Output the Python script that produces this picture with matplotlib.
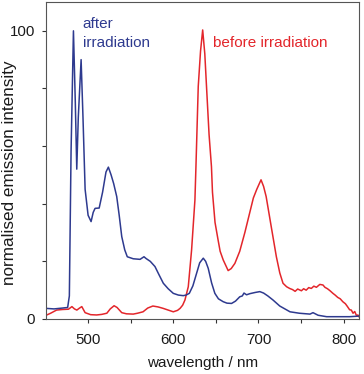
import matplotlib
matplotlib.use("Agg")
import matplotlib.pyplot as plt
from matplotlib.ticker import FixedLocator, FuncFormatter

plt.rcParams['font.family'] = ['Liberation Sans', 'DejaVu Sans']

# after irradiation (blue)
blue_wl = [450, 460, 470, 476, 478, 480, 482.8, 485, 486.7, 488.5, 491.8, 494, 496.5, 500,
           503.5, 506, 508.2, 513, 517, 521, 523.8, 527, 530, 533.6, 536.5, 539.5, 543,
           546, 553, 561, 565.6, 568, 573, 578.5, 583, 588.3, 594, 600, 606, 611.7, 615,
           618.8, 623, 627.4, 631, 635.2, 638, 641, 645, 648.8, 653, 658.6, 663, 668.4,
           673, 678, 681, 683, 686, 690, 696, 701.6, 706, 711, 717, 725, 737, 748, 760.5,
           764, 770, 780, 795, 807, 818]
blue_val = [3.7, 3.5, 3.8, 4.0, 8, 58, 100, 75, 52, 70, 90, 70, 45, 36,
            33.8, 37, 38.4, 38.5, 44, 51, 52.7, 50, 47, 42.5, 36, 28.6, 24,
            21.6, 20.9, 20.7, 21.6, 21, 20, 18.2, 15.5, 12.4, 10.5, 8.9, 8.3, 8.1, 8.3,
            8.9, 11.5, 15.9, 19.5, 21.1, 20, 17.6, 12.5, 8.9, 7, 6, 5.5, 5.4,
            6.2, 7.7, 8.0, 9.0, 8.4, 8.8, 9.2, 9.5, 9.0, 8.0, 6.6, 4.5, 2.5, 2.0, 1.7,
            2.2, 1.3, 0.8, 0.8, 0.8, 1.0]

# before irradiation (red)
red_wl = [450, 456, 463, 470, 477, 481, 484, 486.8, 490, 492.6, 496.5, 503, 510, 516, 522,
          526, 530.5, 534, 539.5, 545, 553, 558, 564.5, 570, 576, 582, 588, 594, 600, 605,
          608, 611, 613.7, 617.6, 621.5, 625.4, 626.6, 629.3, 632, 634.5, 637, 639, 642,
          644.8, 646, 649, 652.6, 655, 658.6, 664.4, 668, 672.3, 678, 684, 689, 694, 698, 703,
          706, 709, 715, 721, 725, 728.8, 733, 736.6, 740, 743, 746, 750.4, 753, 756, 759,
          762, 765, 768, 772, 775.7, 778, 781, 784, 787.4, 790, 793, 796, 799, 802, 804,
          807, 809, 811, 813, 815, 816.7, 818]
red_val = [1.2, 2.0, 3.1, 3.3, 3.4, 4.3, 3.5, 3.1, 3.8, 4.3, 2.2, 1.5, 1.4, 1.6, 2.0,
           3.5, 4.6, 4.0, 2.2, 1.8, 1.7, 2.0, 2.5, 3.8, 4.5, 4.2, 3.7, 3.1, 2.5, 3.0,
           3.7, 4.8, 6.6, 11.2, 24, 41.3, 52.9, 80.7, 93, 100.3, 92, 80.7, 64,
           52.9, 44, 33.5, 27.4, 23.5, 20.5, 16.8, 17.5, 19.3, 23.5, 30, 36, 42, 45, 48.3,
           46, 42.5, 32, 21.6, 16, 12.4, 11.2, 10.6, 10.2, 9.6, 10.4, 9.8, 10.5, 10.0, 10.9,
           10.6, 11.4, 11.0, 12.0, 11.8, 11.0, 10.5, 9.8, 8.9, 8.3, 7.5, 7.0, 6.0, 5.3, 4.5,
           3.2, 3.1, 2.0, 2.6, 1.2, 1.4, 0.8]

x_major = [500, 600, 700, 800]
x_minor = [550, 650, 750]
y_major = [0, 20, 40, 60, 80, 100]
y_labels = {0: "0", 100: "100"}

BLUE = "#2e3a8f"
RED = "#e3262b"

fig = plt.figure(figsize=(3.64, 3.74), dpi=100)
ax = fig.add_axes([45.5 / 364, 1 - 319 / 374, (359 - 45.5) / 364, (319 - 2) / 374])

ax.plot(red_wl, red_val, color=RED, lw=1.1)
ax.plot(blue_wl, blue_val, color=BLUE, lw=1.1)

ax.set_xlim(450, 818)
ax.set_ylim(0, 110)

ax.xaxis.set_major_locator(FixedLocator(x_major))
ax.xaxis.set_minor_locator(FixedLocator(x_minor))
ax.yaxis.set_major_locator(FixedLocator(y_major))
ax.yaxis.set_major_formatter(FuncFormatter(lambda v, p: y_labels.get(int(round(v)), "")))

for s in ax.spines.values():
    s.set_color("#555555")
    s.set_linewidth(0.8)
ax.tick_params(axis='both', which='both', direction='out', length=3, width=0.8,
               color="#333333", labelsize=10.8, labelcolor="#1a1a1a")
ax.tick_params(axis='x', which='major', pad=7)
ax.tick_params(axis='y', which='major', pad=4.5)

ax.text(493.8, 100.9, "after", color=BLUE, fontsize=11, va='baseline', ha='left')
ax.text(493.8, 94.5, "irradiation", color=BLUE, fontsize=11, va='baseline', ha='left')
ax.text(646.5, 94.5, "before irradiation", color=RED, fontsize=11, va='baseline', ha='left')

fig.text(202.5 / 364, 1 - 363 / 374, "wavelength / nm", fontsize=11, color="#1a1a1a",
         ha='center', va='center')
fig.text(10 / 364, 1 - 173 / 374, "normalised emission intensity", fontsize=12.3,
         color="#1a1a1a", rotation=90, ha='center', va='center')

fig.savefig("out.png", dpi=100)
